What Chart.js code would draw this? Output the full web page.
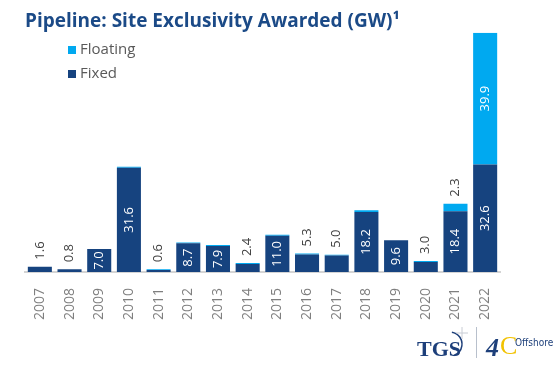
<!DOCTYPE html>
<html>
<head>
<meta charset="utf-8">
<script src="https://cdn.jsdelivr.net/npm/chart.js@4.4.1/dist/chart.umd.min.js"></script>
<style>
  html, body { margin: 0; padding: 0; background: #fff; }
  #wrap { width: 553px; height: 366px; position: relative; }
</style>
</head>
<body>
<div id="wrap"><canvas id="chart"></canvas></div>
<script>
const years = ['2007', '2008', '2009', '2010', '2011', '2012', '2013', '2014',
  '2015', '2016', '2017', '2018', '2019', '2020', '2021', '2022'];
const fixedGW = [1.6, 0.8, 7.0, 31.6, 0.6, 8.7, 7.9, 2.4, 11.0, 5.3, 5.0, 18.2, 9.6, 3.0, 18.4, 32.6];
const floatingGW = [0, 0, 0, 0.3, 0.2, 0.2, 0.3, 0.3, 0.3, 0.3, 0.2, 0.5, 0, 0.3, 2.3, 39.9];

const FIXED_COLOR = '#16437f';
const FLOAT_COLOR = '#00a9f0';
const MIN_LABEL = 1; // floating slivers below this are not labelled

// value labels, rotated, inside the bar if it fits, otherwise above the stack
const valueLabels = {
  id: 'valueLabels',
  afterDatasetsDraw(chart) {
    const ctx = chart.ctx;
    const fixedMeta = chart.getDatasetMeta(0);
    const floatMeta = chart.getDatasetMeta(1);
    ctx.save();
    ctx.font = '13px "Open Sans"';
    ctx.textBaseline = 'middle';
    chart.data.datasets.forEach((ds, di) => {
      const meta = chart.getDatasetMeta(di);
      meta.data.forEach((bar, i) => {
        const v = ds.data[i];
        if (di === 1 && v < MIN_LABEL) return;
        const txt = v.toFixed(1);
        const w = ctx.measureText(txt).width;
        const h = bar.base - bar.y;
        ctx.save();
        if (h >= w + 2) {
          ctx.translate(bar.x, (bar.y + bar.base) / 2);
          ctx.rotate(-Math.PI / 2);
          ctx.textAlign = 'center';
          ctx.fillStyle = '#ffffff';
          ctx.fillText(txt, 0, 0);
        } else {
          const top = Math.min(fixedMeta.data[i].y, floatMeta.data[i].y);
          ctx.translate(bar.x, top);
          ctx.rotate(-Math.PI / 2);
          ctx.textAlign = 'left';
          ctx.fillStyle = '#404040';
          ctx.fillText(txt, 7, 0);
        }
        ctx.restore();
      });
    });
    ctx.restore();
  }
};

// vertical legend + logo text
const extras = {
  id: 'extras',
  afterDraw(chart) {
    const ctx = chart.ctx;
    ctx.save();
    const items = chart.data.datasets.slice().reverse();
    items.forEach((ds, k) => {
      const y = 50 + k * 24;
      ctx.fillStyle = ds.backgroundColor;
      ctx.fillRect(68, y - 4, 8, 8);
      ctx.fillStyle = '#595959';
      ctx.font = '15px "Open Sans"';
      ctx.textBaseline = 'middle';
      ctx.textAlign = 'left';
      ctx.fillText(ds.label, 80, y);
    });

    // TGS | 4C Offshore
    ctx.textBaseline = 'alphabetic';
    ctx.fillStyle = '#1d3f7a';
    ctx.font = 'bold 22px "Liberation Serif"';
    ctx.fillText('TGS', 417, 356);
    ctx.strokeStyle = '#1d3f7a';
    ctx.lineWidth = 1.5;
    ctx.beginPath();
    ctx.arc(450, 344, 12, -Math.PI * 0.45, Math.PI * 0.4);
    ctx.stroke();
    ctx.strokeStyle = '#c8ccd4';
    ctx.lineWidth = 1;
    ctx.beginPath();
    ctx.moveTo(462, 327); ctx.lineTo(462, 339);
    ctx.moveTo(456, 333); ctx.lineTo(468, 333);
    ctx.stroke();
    ctx.strokeStyle = '#b8c0cc';
    ctx.beginPath();
    ctx.moveTo(476.5, 327); ctx.lineTo(476.5, 358);
    ctx.stroke();
    ctx.fillStyle = '#1d3f7a';
    ctx.font = 'italic bold 26px "Liberation Serif"';
    ctx.fillText('4', 486, 356);
    ctx.fillStyle = '#f2c200';
    ctx.font = '26px "Liberation Serif"';
    ctx.fillText('C', 500, 354);
    ctx.fillStyle = '#1d3f7a';
    ctx.font = '10px "DejaVu Sans Condensed"';
    ctx.fillText('Offshore', 515, 346);
    ctx.restore();
  }
};

new Chart(document.getElementById('chart'), {
  type: 'bar',
  data: {
    labels: years,
    datasets: [
      { label: 'Fixed', data: fixedGW, backgroundColor: FIXED_COLOR },
      { label: 'Floating', data: floatingGW, backgroundColor: FLOAT_COLOR }
    ]
  },
  options: {
    responsive: true,
    maintainAspectRatio: false,
    animation: false,
    categoryPercentage: 0.81,
    barPercentage: 1,
    layout: { padding: { left: 25, right: 53, top: 0, bottom: 38 } },
    plugins: {
      legend: { display: false },
      tooltip: { enabled: false },
      title: {
        display: true,
        text: 'Pipeline: Site Exclusivity Awarded (GW)¹',
        align: 'start',
        color: '#1b4a87',
        font: { family: '"Open Sans"', size: 19, weight: 'bold' },
        padding: { top: 10, bottom: 0 }
      }
    },
    scales: {
      x: {
        stacked: true,
        grid: { display: false },
        border: { display: true, color: '#d4d4d4', width: 2 },
        ticks: {
          minRotation: 90, maxRotation: 90, padding: 8,
          color: '#7f7f7f',
          font: { family: '"Open Sans"', size: 14 }
        }
      },
      y: {
        stacked: true,
        display: false,
        min: 0,
        max: 72.5
      }
    }
  },
  plugins: [valueLabels, extras]
});
</script>
</body>
</html>
